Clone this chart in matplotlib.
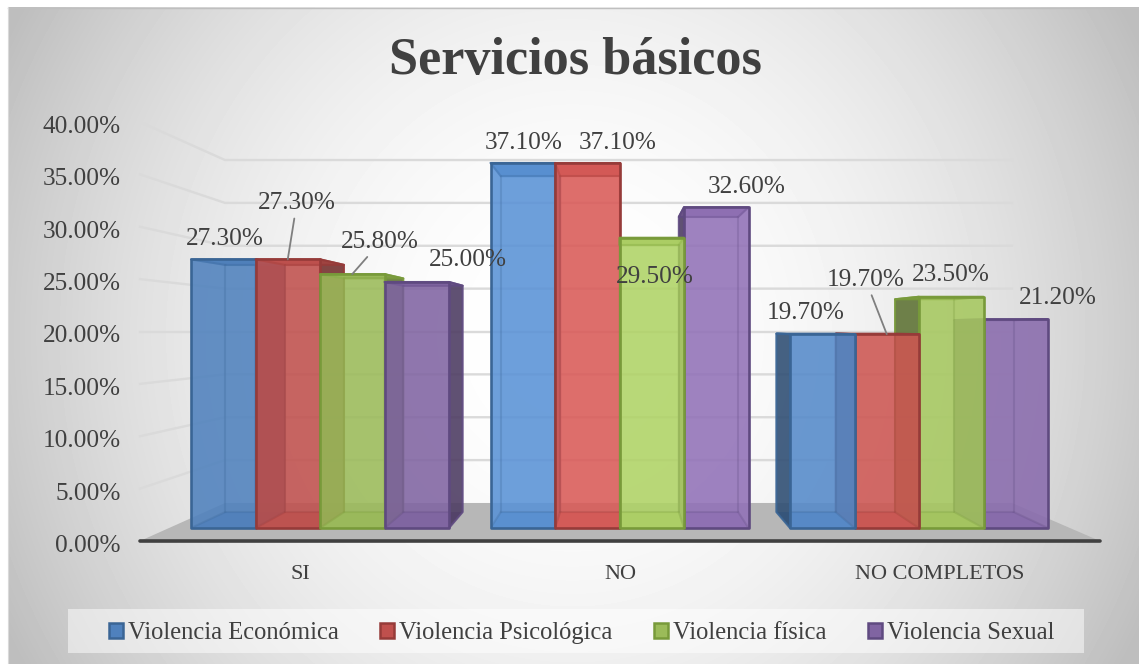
import numpy as np
import matplotlib
matplotlib.use("Agg")
import matplotlib.pyplot as plt
from matplotlib.patches import Polygon, Patch, Rectangle
from matplotlib.colors import to_rgb
from matplotlib.transforms import ScaledTranslation

categories = ["SI", "NO", "NO COMPLETOS"]
series_names = ["Violencia Económica", "Violencia Psicológica", "Violencia física", "Violencia Sexual"]
economica = [27.3, 37.1, 19.7]
psicologica = [27.3, 37.1, 19.7]
fisica = [25.8, 29.5, 23.5]
sexual = [25.0, 32.6, 21.2]
series_values = [economica, psicologica, fisica, sexual]
y_ticks = [0, 5, 10, 15, 20, 25, 30, 35, 40]

fills = ["#4F81BD", "#C0504D", "#9BBB59", "#8064A2"]
edges = ["#3A6595", "#963B39", "#789A3A", "#5F4A80"]
group_light = [1.0, 1.13, 1.07]
# label offsets in pixels from the top centre of each bar
label_offsets = [[(2, 20), (9, 56), (28, 32), (51, 22)],
                 [(1, 20), (30, 20), (3, -39), (30, 20)],
                 [(-17, 21), (-21, 54), (0, 22), (42, 21)]]
leaders = {(0, 1), (0, 2), (2, 1)}

W, H = 1139, 664
plt.rcParams["font.family"] = ["Liberation Serif", "DejaVu Serif"]
TXT = "#404040"
FS = 18.2
fig = plt.figure(figsize=(W / 100, H / 100), dpi=100, facecolor="white")


def rect(l, t, r, b):
    return [l / W, 1 - b / H, (r - l) / W, (b - t) / H]


# ---- background
ax_bg = fig.add_axes(rect(8, 7, W, H))
ax_bg.set_axis_off()
yy, xx = np.mgrid[7:H, 8:W]
u = (xx - 572) / 565
v = (yy - 335) / 330
drop = np.clip(u ** 2 * 0.8 + v ** 2 * 0.25, 0, 1.0)
grey = 1 - drop * 65 / 255
ax_bg.imshow(grey, cmap="gray", vmin=0, vmax=1, aspect="auto", interpolation="bilinear")
fig.add_artist(plt.Line2D([8 / W, 1], [1 - 7.5 / H] * 2, color="#BFBFBF", lw=1))
fig.add_artist(plt.Line2D([7.5 / W] * 2, [0, 1 - 7 / H], color="#D9D9D9", lw=0.8))

# ---- walls / axis (front plane of the wall box: 0% at 541, 40% at 122)
ax_wall = fig.add_axes(rect(140, 122, 1100, 541))
ax_wall.patch.set_alpha(0)
ax_wall.set_xlim(-0.5, 2.5)
ax_wall.set_ylim(0, 40)
for s in ax_wall.spines.values():
    s.set_visible(False)
ax_wall.set_yticks(y_ticks)
ax_wall.set_yticklabels([f"{t:.2f}%" for t in y_ticks], fontsize=FS, color=TXT)
ax_wall.set_xticks(range(3))
ax_wall.set_xticklabels(categories, fontsize=16, color=TXT)
ax_wall.tick_params(length=0, axis="y", pad=14)
ax_wall.tick_params(length=0, axis="x", pad=17)
shift = ScaledTranslation(0, -2.5 / 100, fig.dpi_scale_trans)
for lab in ax_wall.get_yticklabels():
    lab.set_transform(lab.get_transform() + shift)


def wall_back(vv):
    return 3.63 + vv * 32.74 / 40


dx_l, dx_r = -0.5 + 85 / 320, 2.5 - 88 / 320
ax_wall.add_patch(Polygon([(-0.5, 0), (dx_l, wall_back(0)), (dx_r, wall_back(0)), (2.5, 0)],
                          closed=True, fc="#B7B7B7", ec="none", zorder=1))
for t in y_ticks[1:]:
    ax_wall.plot([-0.5, dx_l, dx_r], [t, wall_back(t), wall_back(t)], color="#DADADA", lw=1.7,
                 zorder=1, clip_on=False, solid_joinstyle="round")
ax_wall.plot([-0.5, 2.5], [0, 0], color="#404040", lw=2.6, zorder=2, clip_on=False,
             solid_capstyle="round")

# ---- bars (front plane: 0% at 528 px, 9.84 px per point; groups 299.5 px apart, first at 320)
ax = fig.add_axes([0, 0, 1, 1])
ax.patch.set_alpha(0)
ax.set_axis_off()
ax.set_xlim((0 - 320) / 299.5, (W - 320) / 299.5)
ax.set_ylim((528 - H) / 9.84, 528 / 9.84)
bar_w = 64.5 / 299.5
VX, VY, DEPTH = 1.0, 20.3, 0.92


def back(p):
    return (VX + DEPTH * (p[0] - VX), VY + DEPTH * (p[1] - VY))


def shade(c, f):
    return tuple(min(1, x * f) for x in to_rgb(c))


def box(x0, val, fill, edge, light, z):
    x1 = x0 + bar_w
    f = [(x0, 0), (x1, 0), (x1, val), (x0, val)]
    b = [back(p) for p in f]
    kw = dict(closed=True, joinstyle="round")
    outer_right = (x0 + x1) / 2 < VX
    # floor
    ax.add_patch(Polygon([f[0], f[1], b[1], b[0]], fc=shade(fill, 0.9), ec="none", alpha=0.7, zorder=z, **kw))
    # outer (dark) side
    a_out, c_out = (1, 2) if outer_right else (0, 3)
    ax.add_patch(Polygon([f[a_out], f[c_out], b[c_out], b[a_out]], fc=shade(fill, 0.62), ec=edge,
                         alpha=0.9, lw=1.5, zorder=z, **kw))
    # top
    ax.add_patch(Polygon([f[3], f[2], b[2], b[3]], fc=shade(fill, 0.85), ec=edge, alpha=0.9, lw=1.5, zorder=z, **kw))
    # front
    ax.add_patch(Polygon(f, fc=shade(fill, light), ec="none", alpha=0.88, zorder=z, **kw))
    # visible inner wireframe
    for xs, ys in (([b[0][0], b[1][0], b[2][0], b[3][0], b[0][0]], [b[0][1], b[1][1], b[2][1], b[3][1], b[0][1]]),
                   ([f[0][0], b[0][0]], [f[0][1], b[0][1]]), ([f[1][0], b[1][0]], [f[1][1], b[1][1]]),
                   ([f[2][0], b[2][0]], [f[2][1], b[2][1]]), ([f[3][0], b[3][0]], [f[3][1], b[3][1]])):
        line = ax.plot(xs, ys, color=edge, lw=1.5, alpha=0.25, zorder=z)[0]
        line.set_clip_path(Polygon(f, transform=ax.transData))
    ax.add_patch(Polygon(f, fc="none", ec=edge, lw=1.9, zorder=z, **kw))


z = 3
for i in range(3):
    xs0 = [i + (j - 2) * bar_w for j in range(4)]
    # bars farthest from the view centre are painted first
    order = sorted(range(4), key=lambda j: -abs(xs0[j] + bar_w / 2 - VX))
    for j in order:
        box(xs0[j], series_values[j][i], fills[j], edges[j], group_light[i], z)
        z += 1

for i in range(3):
    for j in range(4):
        val = series_values[j][i]
        xc = i + (j - 1.5) * bar_w
        ap = None
        if (i, j) in leaders:
            ap = dict(arrowstyle="-", color="#7F7F7F", lw=1.3, shrinkA=1, shrinkB=0)
        ax.annotate(f"{val:.2f}%", xy=(xc, val), xytext=label_offsets[i][j], textcoords="offset pixels",
                    ha="center", va="center", fontsize=FS, color=TXT, arrowprops=ap, zorder=100)

# ---- title
fig.text(575 / W, 1 - 61 / H, "Servicios básicos", fontsize=37.6, fontweight="bold", color=TXT,
         ha="center", va="center")

# ---- legend
fig.add_artist(Rectangle((68 / W, 1 - 653 / H), (1084 - 68) / W, 44 / H, transform=fig.transFigure,
                         fc="white", ec="none", alpha=0.5))
handles = [Patch(facecolor=to_rgb(c), edgecolor=e, lw=1.8) for c, e in zip(fills, edges)]
fig.legend(handles, series_names, ncol=4, frameon=False, loc="center",
           bbox_to_anchor=(581.5 / W, 1 - 633 / H), fontsize=17.7, labelcolor=TXT,
           handlelength=0.56, handleheight=0.56, handletextpad=0.2, columnspacing=1.7,
           borderpad=0, borderaxespad=0)

fig.savefig("out.png", dpi=100)
